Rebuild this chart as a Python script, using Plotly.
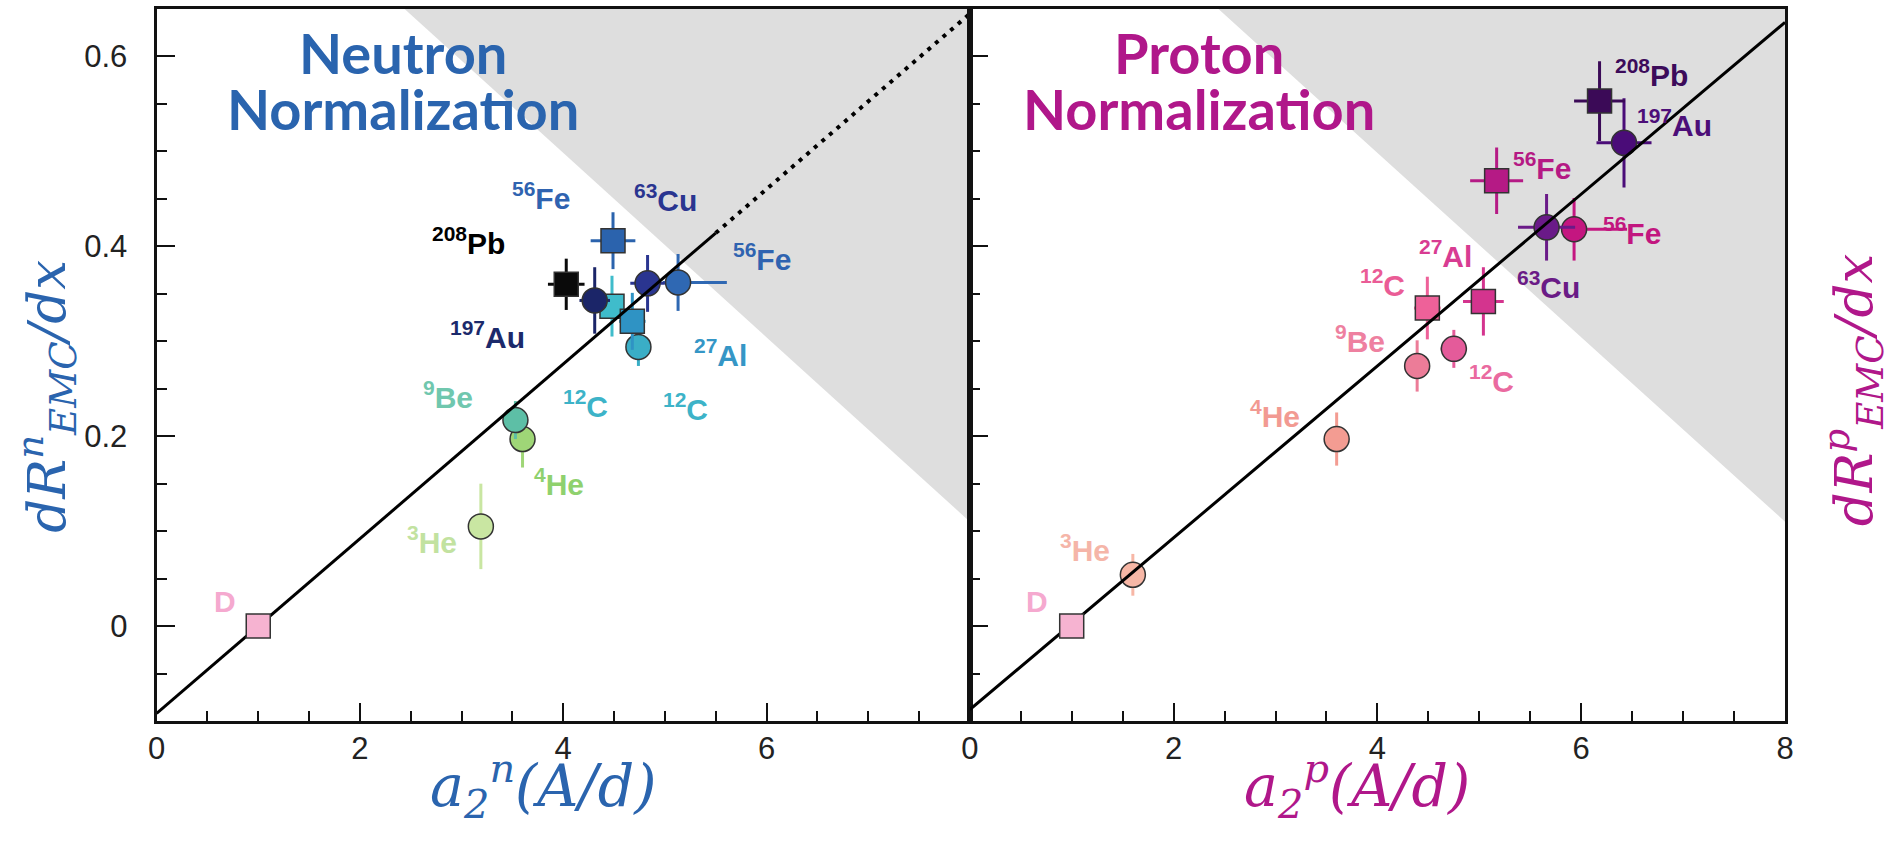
import plotly.graph_objects as go

# ---------------- data ----------------
labels = ["D", "<sup>3</sup>He", "<sup>4</sup>He", "<sup>9</sup>Be", "<sup>12</sup>C", "<sup>12</sup>C",
          "<sup>27</sup>Al", "<sup>56</sup>Fe", "<sup>56</sup>Fe", "<sup>63</sup>Cu", "<sup>197</sup>Au", "<sup>208</sup>Pb"]
symbols = ["square", "circle", "circle", "circle", "square", "circle",
           "square", "square", "circle", "circle", "circle", "square"]

# neutron normalization
n_x = [1.00, 3.19, 3.60, 3.53, 4.48, 4.74, 4.68, 4.49, 5.13, 4.83, 4.31, 4.03]
n_y = [0.000, 0.105, 0.197, 0.217, 0.337, 0.294, 0.321, 0.406, 0.362, 0.361, 0.343, 0.360]
n_ey = [0, 0.045, 0.030, 0.020, 0.032, 0.020, 0.030, 0.030, 0.030, 0.030, 0.035, 0.027]
n_exm = [0, 0, 0, 0, 0.10, 0.12, 0.13, 0.22, 0.15, 0.17, 0.15, 0.18]
n_exp = [0, 0, 0, 0, 0.10, 0.12, 0.13, 0.22, 0.48, 0.17, 0.15, 0.18]

# proton normalization
p_x = [1.00, 1.60, 3.60, 4.39, 4.49, 4.75, 5.04, 5.17, 5.93, 5.66, 6.42, 6.18]
p_y = [0.000, 0.054, 0.197, 0.274, 0.335, 0.292, 0.342, 0.469, 0.418, 0.420, 0.509, 0.553]
p_ey = [0, 0.022, 0.028, 0.027, 0.033, 0.020, 0.036, 0.035, 0.033, 0.035, 0.047, 0.042]
p_exm = [0, 0, 0, 0, 0.13, 0.13, 0.20, 0.26, 0.10, 0.28, 0.27, 0.25]
p_exp = [0, 0, 0, 0, 0.13, 0.13, 0.20, 0.26, 0.52, 0.28, 0.27, 0.25]

# fit lines
fit_n_solid_x = [0.0, 5.5]
fit_n_solid_y = [-0.092, 0.414]
fit_n_dot_x = [5.5, 8.0]
fit_n_dot_y = [0.414, 0.645]
fit_p_x = [0.0, 8.0]
fit_p_y = [-0.088, 0.636]

# excluded (shaded) region
shade_x = [2.44, 8.0, 8.0, 2.44]
shade_y = [0.65, 0.65, 0.11, 0.65]

# ---------------- styles ----------------
n_colors = ["#f6b3d1", "#c9e6a2", "#9fd677", "#5dbfa6", "#3fbccb", "#3aaec6",
            "#2f93c4", "#2b63ad", "#2f68b3", "#2a3590", "#1b2568", "#0a0a0a"]
n_label_colors = ["#f5a9cf", "#c2e2a0", "#8fd16e", "#70c7ae", "#3db3c8", "#3db3c8",
                  "#3596c6", "#2f63b0", "#2f63b0", "#2a3590", "#1c2a6b", "#000000"]
n_label_shift = [(-33, 25), (-49, -14), (36, -43), (-67, 25), (-26, -98), (47, -60),
                 (88, -32), (-72, 45), (84, 25), (18, 85), (-107, -35), (-98, 43)]

p_colors = ["#f6b3d1", "#f7b7a6", "#f39c92", "#ec7c98", "#ee6199", "#e45b9a",
            "#d4348e", "#b51a85", "#c41680", "#6a1a88", "#4a0c78", "#3b0a57"]
p_label_colors = ["#f5a9cf", "#f5b5a8", "#f29a92", "#ee80a0", "#ea5c96", "#ea6aa0",
                  "#d83c92", "#b51984", "#c2167f", "#6a1b86", "#4c0e78", "#3c0b5a"]
p_label_shift = [(-35, 25), (-48, 27), (-62, 25), (-57, 27), (-45, 25), (38, -30),
                 (-38, 47), (45, 15), (58, -2), (2, -58), (50, 20), (52, 28)]

BLUE = "#2a64ae"
MAG = "#b0178a"
W, H = 1900, 848
XL0, XM, XR1 = 149, 970, 1793
YT, YB = 9, 721

fig = go.Figure()

# shaded regions
for xa, ya in (("x", "y"), ("x2", "y2")):
    fig.add_trace(go.Scatter(x=shade_x, y=shade_y, fill="toself", fillcolor="#dedede",
                             line=dict(width=0), mode="lines", hoverinfo="skip",
                             showlegend=False, xaxis=xa, yaxis=ya))


def add_points(xs, ys, ey, exm, exp, cols, xa, ya, idx):
    for i in idx:
        fig.add_trace(go.Scatter(
            x=[xs[i]], y=[ys[i]], mode="markers", xaxis=xa, yaxis=ya, showlegend=False,
            marker=dict(symbol=symbols[i], size=24 if symbols[i] == "square" else 25,
                        color=cols[i], line=dict(color="#333333", width=1.5)),
            error_y=dict(type="data", array=[ey[i]], color=cols[i], thickness=3, width=0,
                         visible=ey[i] > 0),
            error_x=dict(type="data", symmetric=False, array=[exp[i]], arrayminus=[exm[i]],
                         color=cols[i], thickness=3, width=0, visible=(exp[i] + exm[i]) > 0),
        ))


order = list(range(1, 12))
add_points(n_x, n_y, n_ey, n_exm, n_exp, n_colors, "x", "y", order)
add_points(p_x, p_y, p_ey, p_exm, p_exp, p_colors, "x2", "y2", order)

# fit lines
fig.add_trace(go.Scatter(x=fit_n_solid_x, y=fit_n_solid_y, mode="lines", line=dict(color="black", width=3),
                         showlegend=False, xaxis="x", yaxis="y"))
fig.add_trace(go.Scatter(x=fit_n_dot_x, y=fit_n_dot_y, mode="lines",
                         line=dict(color="black", width=4, dash="4px,6px"),
                         showlegend=False, xaxis="x", yaxis="y"))
fig.add_trace(go.Scatter(x=fit_p_x, y=fit_p_y, mode="lines", line=dict(color="black", width=3),
                         showlegend=False, xaxis="x2", yaxis="y2"))

# deuteron on top
add_points(n_x, n_y, n_ey, n_exm, n_exp, n_colors, "x", "y", [0])
add_points(p_x, p_y, p_ey, p_exm, p_exp, p_colors, "x2", "y2", [0])

# point labels
ann = []
for xs, ys, cols, shifts, xr, yr in ((n_x, n_y, n_label_colors, n_label_shift, "x", "y"),
                                     (p_x, p_y, p_label_colors, p_label_shift, "x2", "y2")):
    for i in range(len(labels)):
        ann.append(dict(x=xs[i], y=ys[i], xref=xr, yref=yr, text="<b>" + labels[i] + "</b>",
                        showarrow=False, xshift=shifts[i][0], yshift=shifts[i][1],
                        xanchor="center", yanchor="middle",
                        font=dict(family="Liberation Sans, Arial", size=30, color=cols[i])))


def paper_ann(px, py, text, font, angle=0):
    return dict(x=px / W, y=1 - py / H, xref="paper", yref="paper", showarrow=False,
                xanchor="center", yanchor="middle", textangle=angle, text=text,
                align="center", font=font)


# panel titles (one line each)
tf_b = dict(family="Lato", size=56, color=BLUE)
tf_m = dict(family="Lato", size=56, color=MAG)
ann.append(paper_ann(398, 52, "<b>Neutron</b>", tf_b))
ann.append(paper_ann(398, 108, "<b>Normalization</b>", tf_b))
ann.append(paper_ann(1201, 52, "<b>Proton</b>", tf_m))
ann.append(paper_ann(1201, 108, "<b>Normalization</b>", tf_m))

# axis titles
serif_b = dict(family="DejaVu Serif", size=53, color=BLUE)
serif_m = dict(family="DejaVu Serif", size=53, color=MAG)
ann.append(paper_ann(38, 396, "<i>dR<sup>n</sup><sub>EMC</sub>/dx</i>", serif_b, -90))
ann.append(paper_ann(1862, 390, "<i>dR<sup>p</sup><sub>EMC</sub>/dx</i>", serif_m, -90))
xt_b = dict(family="DejaVu Serif", size=57, color=BLUE)
xt_m = dict(family="DejaVu Serif", size=57, color=MAG)
ann.append(paper_ann(XL0 + 390, 786, "<i>a<sub>2</sub><sup>n</sup>(A/d)</i>", xt_b))
ann.append(paper_ann(XM + 391, 786, "<i>a<sub>2</sub><sup>p</sup>(A/d)</i>", xt_m))

tickfont = dict(family="Liberation Sans, Arial", size=31, color="#222222")
common = dict(showgrid=False, zeroline=False, showline=True, linecolor="#111111", linewidth=3,
              mirror=True, ticks="inside", tickwidth=2, tickcolor="#111111", tickfont=tickfont)
minor_x = dict(tickmode="linear", tick0=0, dtick=0.5, ticks="inside", ticklen=10,
               tickwidth=2, tickcolor="#111111")
minor_y = dict(tickmode="linear", tick0=0, dtick=0.05, ticks="inside", ticklen=10,
               tickwidth=2, tickcolor="#111111")

fig.update_layout(
    width=W, height=H, margin=dict(l=0, r=0, t=0, b=0),
    paper_bgcolor="white", plot_bgcolor="white", showlegend=False,
    annotations=ann,
    xaxis=dict(domain=[XL0 / W, XM / W], range=[0, 8], anchor="y", tickmode="array",
               tickvals=[0, 2, 4, 6], ticklen=18, ticklabelstandoff=-2, minor=minor_x, **common),
    xaxis2=dict(domain=[XM / W, XR1 / W], range=[0, 8], anchor="y2", tickmode="array",
                tickvals=[0, 2, 4, 6, 8], ticklen=18, ticklabelstandoff=-2, minor=minor_x, **common),
    yaxis=dict(domain=[1 - YB / H, 1 - YT / H], range=[-0.1, 0.65], anchor="x", tickmode="array",
               tickvals=[0, 0.2, 0.4, 0.6], ticktext=["0", "0.2", "0.4", "0.6"], ticklen=18,
               ticklabelstandoff=20, minor=minor_y, **common),
    yaxis2=dict(domain=[1 - YB / H, 1 - YT / H], range=[-0.1, 0.65], anchor="x2", tickmode="array",
                tickvals=[0, 0.2, 0.4, 0.6], showticklabels=False, ticklen=18, minor=minor_y, **common),
)

fig.write_html("out.html", config={"displayModeBar": False})
